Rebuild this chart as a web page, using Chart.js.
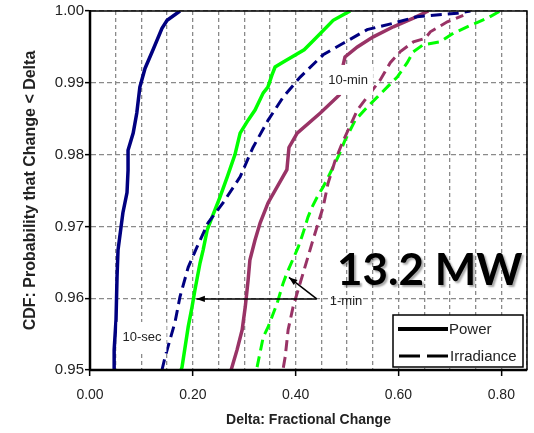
<!DOCTYPE html>
<html>
<head>
<meta charset="utf-8">
<script src="https://cdn.jsdelivr.net/npm/chart.js@4/dist/chart.umd.min.js"></script>
<style>
  html, body { margin: 0; padding: 0; background: #fff; }
  #wrap { width: 534px; height: 433px; position: relative; }
</style>
</head>
<body>
<div id="wrap"><canvas id="cdfChart"></canvas></div>
<script>
// CDF of fractional change, 13.2 MW plant
const sec10PowerX = [0.047, 0.047, 0.0506, 0.0526, 0.0545, 0.064, 0.072, 0.074, 0.074, 0.084, 0.091, 0.097, 0.107, 0.1226, 0.140, 0.150, 0.175];
const sec10PowerY = [0.950, 0.9528, 0.957, 0.963, 0.9667, 0.9719, 0.9747, 0.9778, 0.9806, 0.983, 0.9858, 0.9894, 0.992, 0.9946, 0.9976, 0.9987, 1.000];

const sec10IrrX = [0.140, 0.146, 0.1655, 0.175, 0.191, 0.208, 0.2297, 0.259, 0.292, 0.317, 0.3465, 0.3757, 0.4088, 0.4535, 0.4925, 0.539, 0.590, 0.636, 0.714, 0.740];
const sec10IrrY = [0.950, 0.9518, 0.9567, 0.9602, 0.9643, 0.9671, 0.9705, 0.9733, 0.9769, 0.981, 0.9848, 0.988, 0.9908, 0.9939, 0.9955, 0.9974, 0.9983, 0.9992, 0.9997, 1.000];

const min1PowerX = [0.177, 0.179, 0.191, 0.1985, 0.204, 0.214, 0.220, 0.228, 0.2375, 0.253, 0.267, 0.282, 0.292, 0.3075, 0.321, 0.337, 0.346, 0.354, 0.360, 0.376, 0.4165, 0.436, 0.473, 0.506];
const min1PowerY = [0.950, 0.9504, 0.956, 0.9588, 0.9611, 0.9649, 0.9667, 0.9695, 0.9713, 0.9741, 0.9769, 0.980, 0.983, 0.9848, 0.9862, 0.9886, 0.9894, 0.9911, 0.9922, 0.9929, 0.9946, 0.996, 0.9987, 1.000];

const min1IrrX = [0.325, 0.337, 0.3465, 0.364, 0.3757, 0.383, 0.405, 0.4146, 0.424, 0.432, 0.442, 0.4535, 0.467, 0.4827, 0.496, 0.516, 0.539, 0.5586, 0.578, 0.5976, 0.617, 0.6287, 0.648, 0.681, 0.7066, 0.740, 0.773, 0.798];
const min1IrrY = [0.9504, 0.9546, 0.956, 0.9593, 0.9621, 0.9635, 0.9671, 0.9691, 0.9713, 0.9727, 0.9741, 0.9755, 0.9774, 0.9797, 0.982, 0.9848, 0.9866, 0.988, 0.9894, 0.9908, 0.9928, 0.9943, 0.9953, 0.9957, 0.9969, 0.998, 0.999, 1.000];

const min10PowerX = [0.2745, 0.286, 0.296, 0.302, 0.3075, 0.311, 0.321, 0.331, 0.3465, 0.364, 0.383, 0.387, 0.403, 0.448, 0.485, 0.4925, 0.496, 0.520, 0.551, 0.590, 0.629, 0.658];
const min10PowerY = [0.950, 0.9528, 0.9556, 0.9588, 0.9625, 0.9653, 0.9681, 0.9705, 0.9733, 0.9755, 0.9779, 0.981, 0.983, 0.9858, 0.9883, 0.9925, 0.9936, 0.995, 0.9964, 0.9978, 0.999, 1.000];

const min10IrrX = [0.376, 0.3796, 0.3854, 0.395, 0.4146, 0.432, 0.444, 0.4535, 0.463, 0.477, 0.4905, 0.502, 0.520, 0.539, 0.5645, 0.584, 0.603, 0.629, 0.652, 0.662, 0.695, 0.726];
const min10IrrY = [0.9503, 0.9518, 0.9556, 0.9588, 0.9635, 0.9677, 0.9705, 0.9727, 0.976, 0.9792, 0.9816, 0.9834, 0.9862, 0.988, 0.9904, 0.9928, 0.9943, 0.9957, 0.9962, 0.9971, 0.9985, 0.9994];

const xLabelValues = [0, 0.2, 0.4, 0.6, 0.8];

const NAVY = "#000080";
const GREEN = "#00ff00";
const PLUM = "#993366";
const FONT = "'Liberation Sans', Arial, sans-serif";

const toPoints = (xs, ys) => xs.map((v, i) => ({ x: v, y: ys[i] }));
const isLabelled = v => xLabelValues.some(l => Math.abs(l - v) < 1e-6);

const solid = (data, color) => ({
    data, borderColor: color, borderWidth: 3.5, pointRadius: 0, tension: 0, fill: false
});
const dashed = (data, color) => ({
    data, borderColor: color, borderWidth: 3, borderDash: [11, 6], pointRadius: 0, tension: 0, fill: false
});

const label = (ctx, text, px, py, clear) => {
    const w = ctx.measureText(text).width;
    if (clear) {
        ctx.fillStyle = "#fff";
        ctx.fillRect(px - w / 2 - 5, py - 15, w + 10, 30);
    }
    ctx.fillStyle = "#222";
    ctx.fillText(text, px, py);
};

const arrow = (ctx, x1, y1, x2, y2) => {
    ctx.beginPath();
    ctx.moveTo(x1, y1);
    ctx.lineTo(x2, y2);
    ctx.stroke();
    const ang = Math.atan2(y2 - y1, x2 - x1);
    const len = 9, spread = 0.35;
    ctx.beginPath();
    ctx.moveTo(x2, y2);
    ctx.lineTo(x2 - len * Math.cos(ang - spread), y2 - len * Math.sin(ang - spread));
    ctx.lineTo(x2 - len * Math.cos(ang + spread), y2 - len * Math.sin(ang + spread));
    ctx.closePath();
    ctx.fill();
};

const overlay = {
    id: "overlay",
    afterDatasetsDraw(chart) {
        const { ctx, chartArea: a, scales: { x, y } } = chart;
        ctx.save();

        // plot frame
        ctx.strokeStyle = "#000";
        ctx.lineWidth = 1.5;
        ctx.beginPath();
        ctx.moveTo(a.left, a.top);
        ctx.lineTo(a.right, a.top);
        ctx.lineTo(a.right, a.bottom);
        ctx.stroke();
        ctx.lineWidth = 2.5;
        ctx.beginPath();
        ctx.moveTo(a.left, a.top);
        ctx.lineTo(a.left, a.bottom);
        ctx.lineTo(a.right, a.bottom);
        ctx.stroke();

        // series labels
        ctx.font = "13px " + FONT;
        ctx.textAlign = "center";
        ctx.textBaseline = "middle";
        label(ctx, "10-sec", x.getPixelForValue(0.101), y.getPixelForValue(0.9546), true);
        label(ctx, "10-min", x.getPixelForValue(0.502), y.getPixelForValue(0.9904), true);
        label(ctx, "1-min", x.getPixelForValue(0.498), y.getPixelForValue(0.9596), false);

        // arrows from the 1-min label
        ctx.strokeStyle = "#000";
        ctx.fillStyle = "#000";
        ctx.lineWidth = 1.5;
        const sx = x.getPixelForValue(0.441), sy = y.getPixelForValue(0.9599);
        arrow(ctx, sx, sy, x.getPixelForValue(0.207), y.getPixelForValue(0.9599));
        arrow(ctx, sx, sy, x.getPixelForValue(0.387), y.getPixelForValue(0.9629));

        // big plant size text
        ctx.font = "bold 44px Lato, 'Open Sans', sans-serif";
        ctx.textAlign = "center";
        ctx.textBaseline = "alphabetic";
        ctx.shadowColor = "rgba(0,0,0,0.35)";
        ctx.shadowOffsetX = 2;
        ctx.shadowOffsetY = 2;
        ctx.shadowBlur = 2;
        ctx.fillStyle = "#000";
        ctx.fillText("13.2 MW", x.getPixelForValue(0.661), y.getPixelForValue(0.9618));
        ctx.shadowColor = "transparent";

        // legend box
        const lw = 130, lh = 52;
        const lx = a.right - 4 - lw, ly = a.bottom - 3 - lh;
        ctx.fillStyle = "#fff";
        ctx.fillRect(lx, ly, lw, lh);
        ctx.strokeStyle = "#000";
        ctx.lineWidth = 1.5;
        ctx.strokeRect(lx, ly, lw, lh);

        ctx.lineWidth = 4;
        ctx.beginPath();
        ctx.moveTo(lx + 5, ly + 14);
        ctx.lineTo(lx + 55, ly + 14);
        ctx.stroke();
        ctx.lineWidth = 3;
        ctx.setLineDash([21, 7]);
        ctx.beginPath();
        ctx.moveTo(lx + 6, ly + 41);
        ctx.lineTo(lx + 55, ly + 41);
        ctx.stroke();
        ctx.setLineDash([]);

        ctx.font = "15px " + FONT;
        ctx.textAlign = "left";
        ctx.textBaseline = "middle";
        ctx.fillStyle = "#222";
        ctx.fillText("Power", lx + 56, ly + 15);
        ctx.fillText("Irradiance", lx + 57, ly + 42);

        ctx.restore();
    }
};

const context = document.getElementById("cdfChart").getContext("2d");
const cdfChart = new Chart(context, {
    type: "line",
    data: {
        datasets: [
            dashed(toPoints(min10IrrX, min10IrrY), PLUM),
            dashed(toPoints(min1IrrX, min1IrrY), GREEN),
            dashed(toPoints(sec10IrrX, sec10IrrY), NAVY),
            solid(toPoints(min10PowerX, min10PowerY), PLUM),
            solid(toPoints(min1PowerX, min1PowerY), GREEN),
            solid(toPoints(sec10PowerX, sec10PowerY), NAVY)
        ]
    },
    options: {
        responsive: true,
        maintainAspectRatio: false,
        animation: false,
        devicePixelRatio: 1,
        layout: { padding: { top: 11, right: 7, bottom: 0, left: 0 } },
        plugins: {
            legend: { display: false },
            tooltip: { enabled: false }
        },
        scales: {
            x: {
                type: "linear",
                min: 0,
                max: 0.85,
                afterFit: scale => {
                    scale.height = 63;
                    scale.paddingLeft = 0;
                    scale.paddingRight = 0;
                },
                ticks: {
                    stepSize: 0.05,
                    autoSkip: false,
                    maxRotation: 0,
                    padding: 11,
                    color: "#222",
                    font: { family: FONT, size: 14 },
                    callback: v => isLabelled(v) ? v.toFixed(2) : ""
                },
                grid: {
                    color: "#8a8a8a",
                    lineWidth: 1.3,
                    tickLength: 6,
                    tickWidth: 1.5,
                    tickBorderDash: [],
                    tickColor: c => (c.tick && isLabelled(c.tick.value)) ? "#000" : "rgba(0,0,0,0)"
                },
                border: { display: true, color: "#000", width: 2, dash: [4, 3] },
                title: {
                    display: true,
                    text: "Delta: Fractional Change",
                    color: "#222",
                    font: { family: FONT, size: 14, weight: "bold" },
                    padding: { top: 0, bottom: 4 }
                }
            },
            y: {
                min: 0.95,
                max: 1.0,
                afterFit: scale => { scale.width = 90; },
                ticks: {
                    stepSize: 0.01,
                    padding: 1,
                    color: "#222",
                    font: { family: FONT, size: 15 },
                    callback: v => v.toFixed(2)
                },
                grid: {
                    color: "#8a8a8a",
                    lineWidth: 1.3,
                    tickLength: 5,
                    tickWidth: 1.5,
                    tickBorderDash: [],
                    tickColor: "#000"
                },
                border: { display: true, color: "#000", width: 2, dash: [5, 3] },
                title: {
                    display: true,
                    text: "CDF: Probability that Change < Delta",
                    color: "#222",
                    font: { family: FONT, size: 16, weight: "bold" },
                    padding: { top: 21, bottom: 0 }
                }
            }
        }
    },
    plugins: [overlay]
});
</script>
</body>
</html>
